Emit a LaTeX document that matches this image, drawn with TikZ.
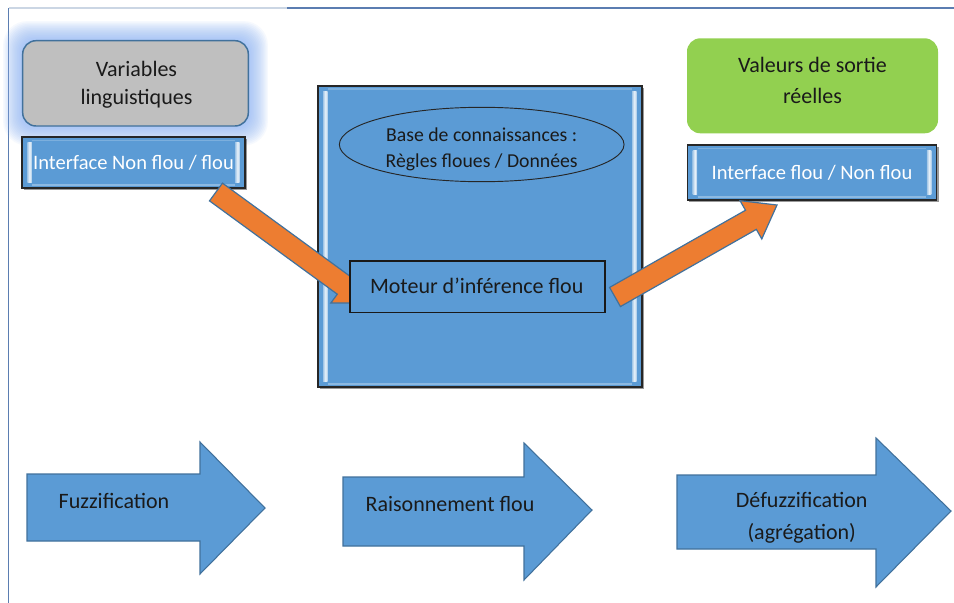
\documentclass[tikz,border=0pt]{standalone}
\usepackage{fontspec}
\setmainfont{Carlito}
\usetikzlibrary{calc,shapes.geometric,shadows,fit}

\definecolor{boxblue}{HTML}{5B9BD5}
\definecolor{edgeblue}{HTML}{41719C}
\definecolor{arroworange}{HTML}{ED7D31}
\definecolor{leafgreen}{HTML}{92D050}
\definecolor{softgray}{HTML}{BFBFBF}
\definecolor{glowblue}{HTML}{8DB4F6}
\definecolor{framebar}{HTML}{5B7DB1}
\definecolor{framepale}{HTML}{CBD6E4}
\definecolor{inktext}{HTML}{1A1A1A}

% light vertical strips inside a bevelled blue box
\newcommand{\bevelstrips}[1]{%
  \shade[left color=boxblue!55!white, right color=boxblue!55!white, middle color=boxblue!12!white]
    ($(#1.north west)+(6,6)$) rectangle ($(#1.south west)+(10.5,-6)$);
  \shade[left color=boxblue!55!white, right color=boxblue!55!white, middle color=boxblue!12!white]
    ($(#1.north east)+(-10.5,6)$) rectangle ($(#1.south east)+(-6,-6)$);
  \draw[boxblue!70!white, line width=1.2pt]
    ($(#1.south west)+(11,-4)$) -- ($(#1.south east)+(-11,-4)$);
  \draw[boxblue!80!white, line width=1pt]
    ($(#1.north west)+(11,4)$) -- ($(#1.north east)+(-11,4)$);
}

% orange block arrow from a tail coordinate to a tip coordinate
\newcommand{\orangearrow}[2]{%
  \coordinate (#1base) at ($(#2)!22.5pt!(#1)$);
  \filldraw[fill=arroworange, draw=edgeblue, line width=0.9pt, line join=miter]
    ($(#1)!8.25pt!90:(#2)$) -- ($(#1base)!8.25pt!90:(#2)$)
    -- ($(#1base)!16.5pt!90:(#2)$) -- (#2)
    -- ($(#1base)!16.5pt!-90:(#2)$) -- ($(#1base)!8.25pt!-90:(#2)$)
    -- ($(#1)!8.25pt!-90:(#2)$) -- cycle;
}

% wide blue step arrow: shaft left, head start, tip x; shaft top/bottom, head top/bottom, tip y
\newcommand{\steparrow}[8]{%
  \filldraw[fill=boxblue, draw=edgeblue, line width=0.8pt, line join=miter]
    (#1,#4) -- (#2,#4) -- (#2,#6) -- (#3,#8) -- (#2,#7) -- (#2,#5) -- (#1,#5) -- cycle;
}

\begin{document}
\begin{tikzpicture}[x=0.75pt, y=-0.75pt,
  bluebox/.style={draw=black!85, line width=1.1pt, fill=boxblue, inner sep=0pt,
    drop shadow={shadow xshift=1.4pt, shadow yshift=-1.4pt, opacity=0.4, fill=black}},
  lighttext/.style={text=white, font=\fontsize{15.4}{18}\selectfont},
  bigtext/.style={text=inktext, font=\fontsize{16.5}{21.3}\selectfont, align=center},
  steptext/.style={text=inktext, font=\fontsize{16.5}{23.8}\selectfont, align=center}]

\useasboundingbox (0,0) rectangle (954,603);
\fill[white] (0,0) rectangle (954,603);

% page frame
\draw[framepale, line width=1.1pt] (8.5,8) -- (287,8);
\draw[framebar, line width=1.1pt] (287,8) -- (954,8);
\draw[framebar, line width=1.1pt] (8.5,8) -- (8.5,603);

% input block with glow
\foreach \g in {1,...,14}
  \fill[glowblue, opacity=0.08, rounded corners=(13+\g*0.8)*0.75pt]
    (22.7-\g*1.4, 40.7-\g*1.4) rectangle (248.3+\g*1.4, 126+\g*1.4);
\node[fit={(22.7,40.7)(248.3,126)}, inner sep=0pt, rounded corners=10pt,
      draw=edgeblue, line width=1.1pt, fill=softgray] (vars) {};
\node[bigtext] (varstext) at (136.5,85) {Variables\\linguistiques};

\node[bluebox, fit={(22,137)(245,188)}] (ifin) {};
\bevelstrips{ifin}
\node[lighttext] (ifintext) at ($(ifin.center)+(0,0.5)$) {Interface Non flou / flou};

% output block
\node[fit={(687,38.3)(938,133.3)}, inner sep=0pt, rounded corners=10pt, fill=leafgreen] (outv) {};
\node[text=inktext, font=\fontsize{16.5}{23.2}\selectfont, align=center] (outvtext) at (812.5,80)
      {Valeurs de sortie\\réelles};

\node[bluebox, fit={(687.3,145)(936.7,200)}] (ifout) {};
\bevelstrips{ifout}
\node[lighttext] (ifouttext) at ($(ifout.center)+(0,0.5)$) {Interface flou / Non flou};

% inference core
\node[bluebox, line width=1.3pt, fit={(318,86)(641.7,387)}] (core) {};
\bevelstrips{core}

\node[ellipse, draw=black!85, line width=0.7pt, minimum width=213.5pt, minimum height=55.8pt,
      inner sep=0pt] (kb) at (481.7,144.5) {};
\node[text=inktext, font=\fontsize{14.8}{19.5}\selectfont, align=center] (kbtext) at (481.7,149)
      {Base de connaissances :\\Règles floues / Données};

% arrow into the engine
\coordinate (a1s) at (216,192);
\coordinate (a1e) at (368,303);
\orangearrow{a1s}{a1e}

\node[fit={(350,261)(605,312.7)}, inner sep=0pt, draw=black!90, line width=1.1pt,
      fill=boxblue] (engine) {};
\node[text=inktext, font=\fontsize{16.5}{20}\selectfont] (enginetext) at (476.7,285.5)
      {Moteur d’inférence flou};

% arrow out of the engine
\coordinate (a2s) at (615,297);
\coordinate (a2e) at (777,205);
\orangearrow{a2s}{a2e}

% processing stages
\steparrow{27}{200}{265}{474}{541}{442}{574}{508}
\node[steptext] (st1) at (114,501) {Fuzzification};

\steparrow{343}{524}{592}{477}{546}{443}{580}{510}
\node[steptext] (st2) at (450,504) {Raisonnement flou};

\steparrow{677}{876}{951}{475}{549}{438}{587}{511}
\node[steptext] (st3) at (801.7,518) {Défuzzification\\(agrégation)};

\end{tikzpicture}
\end{document}
